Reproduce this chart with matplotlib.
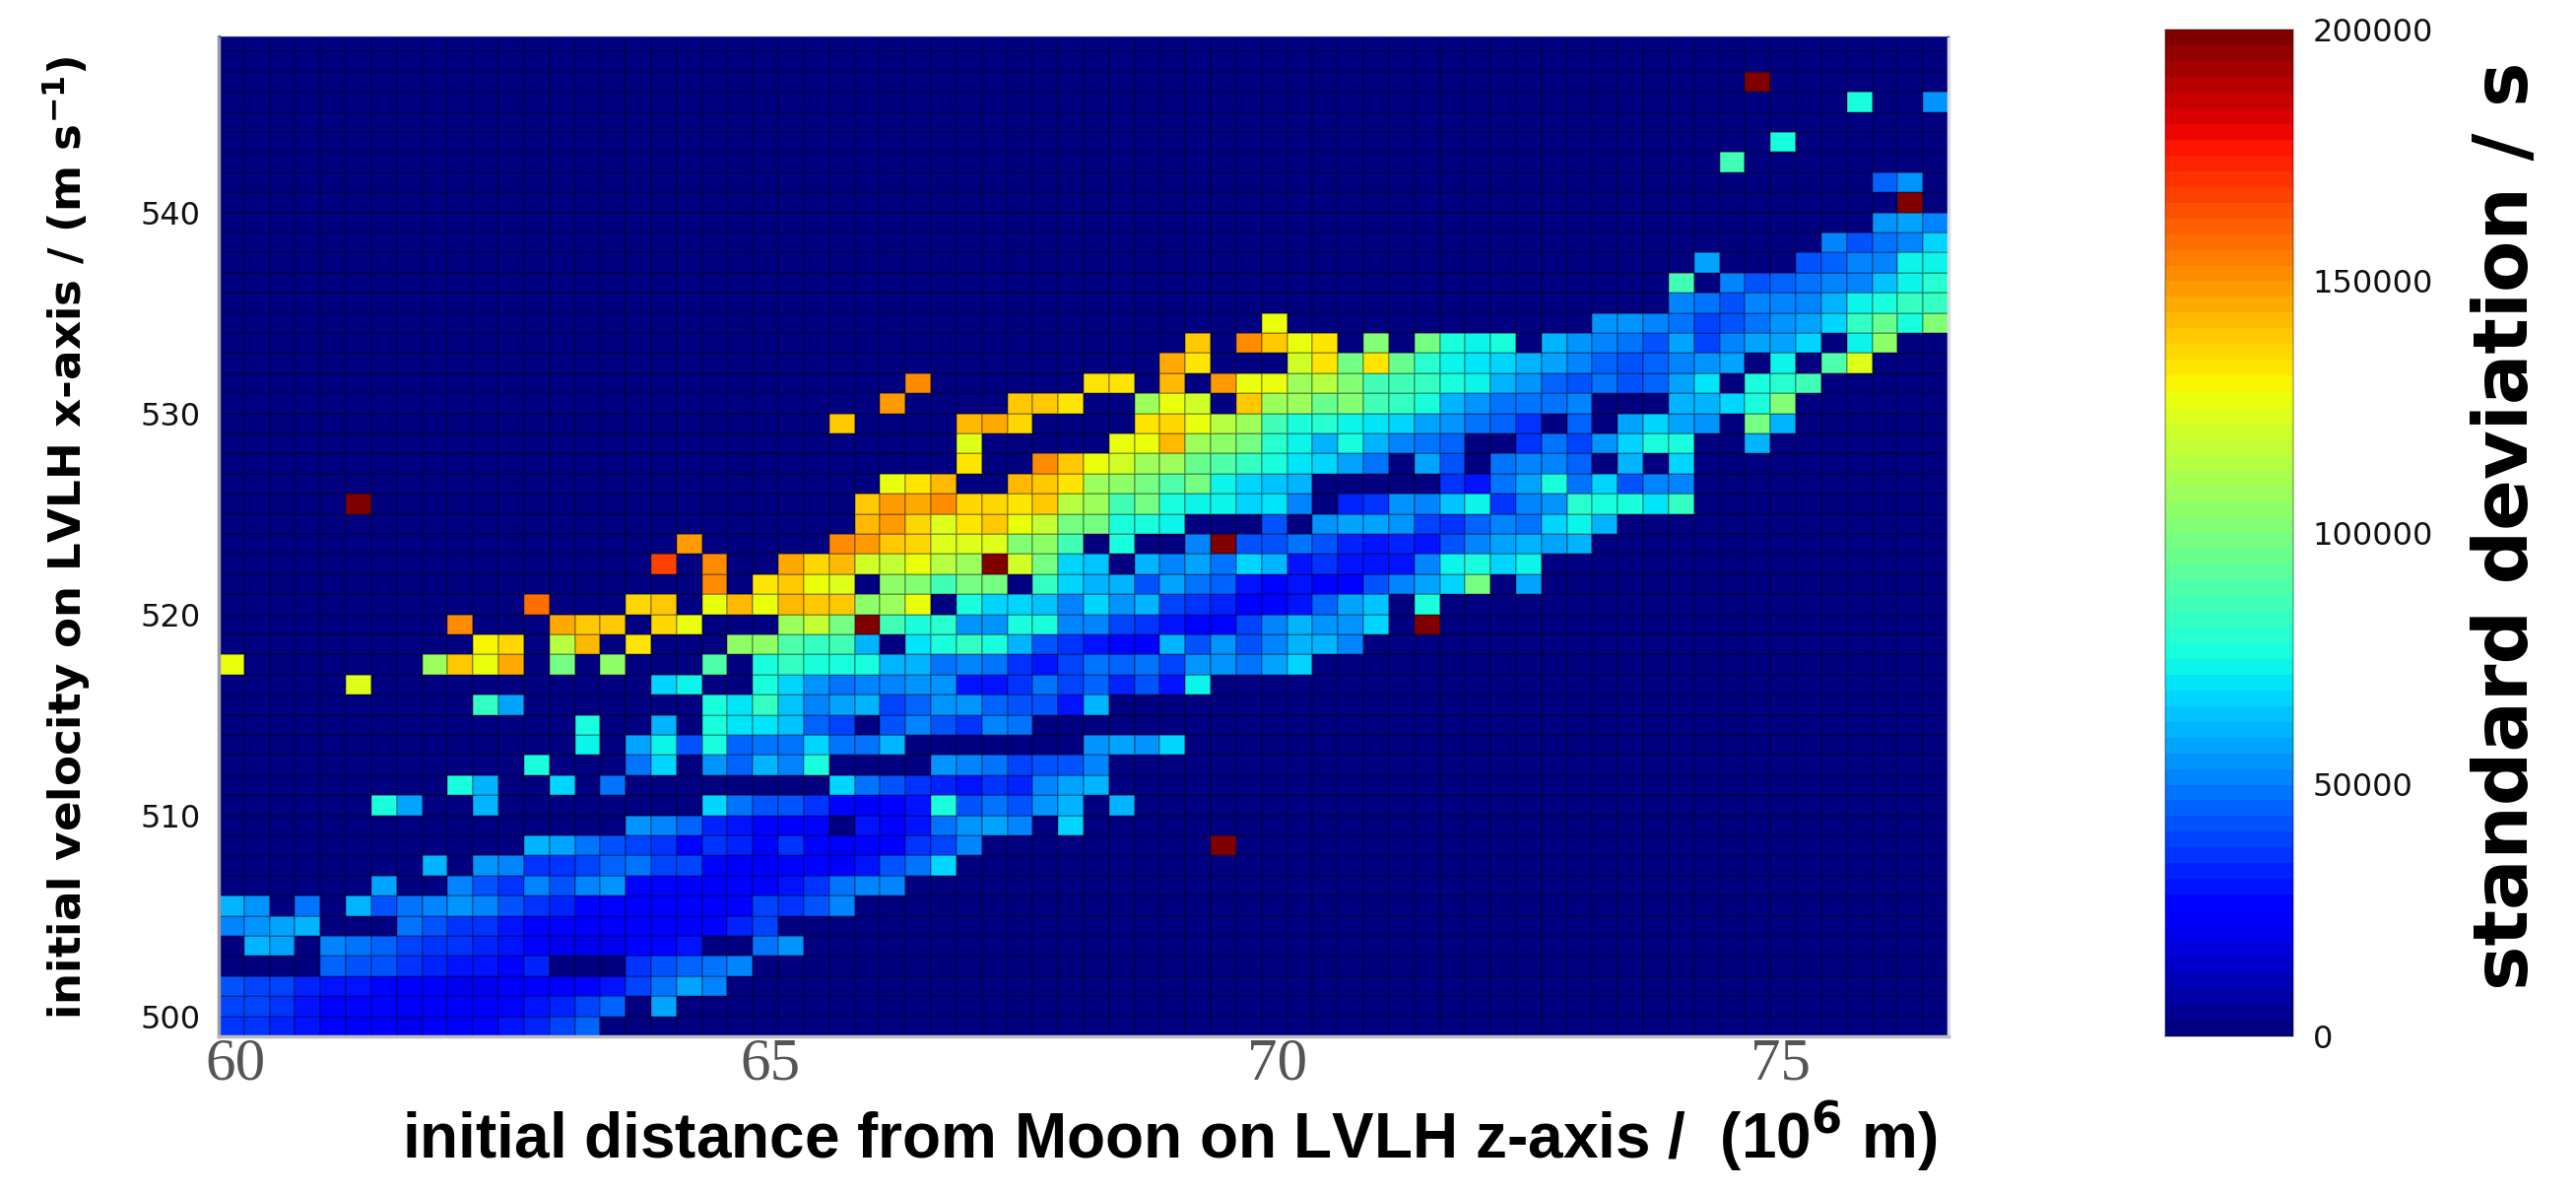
import numpy as np
import matplotlib
matplotlib.use("Agg")
import matplotlib.pyplot as plt

# standard deviation in thousands of seconds
# each entry: (row, first column, values), empty cells stay 0
std_runs = [
    (0, 0, [37, 35, 32, 29, 25, 24, 22, 21, 23, 24, 26, 30, 34, 38, 44]),
    (1, 0, [40, 38, 35, 31, 28, 26, 25, 24, 24, 24, 23, 25, 29, 33, 39, 45, 0, 57]),
    (2, 0, [41, 39, 38, 33, 31, 29, 25, 23, 22, 21, 21, 22, 24, 23, 26, 31, 38, 47, 58, 50]),
    (3, 4, [45, 43, 41, 35, 33, 31, 29, 25, 33, 0, 0, 0, 35, 41, 45, 47, 53]),
    (4, 1, [62, 58, 0, 52, 48, 46, 40, 37, 35, 33, 29, 25, 21, 21, 21, 25, 27, 31, 0, 0, 47, 56]),
    (5, 0, [53, 56, 58, 62, 0, 0, 0, 47, 41, 35, 35, 31, 25, 25, 24, 24, 24, 22, 23, 25, 33, 40]),
    (6, 0, [62, 56, 0, 48, 0, 62, 43, 47, 53, 55, 50, 41, 37, 33, 25, 25, 23, 22, 22, 24, 26, 39, 36, 41, 50]),
    (7, 6, [58, 0, 0, 50, 41, 37, 50, 41, 50, 54, 27, 25, 22, 23, 25, 25, 29, 35, 48, 52, 50]),
    (8, 8, [62, 0, 54, 50, 37, 37, 39, 45, 47, 39, 39, 25, 24, 23, 25, 25, 24, 29, 43, 47, 66]),
    (9, 12, [62, 58, 49, 43, 39, 37, 28, 36, 33, 25, 37, 25, 24, 28, 24, 35, 39, 52]),
    (9, 39, [200]),
    (10, 16, [54, 52, 45, 33, 29, 25, 24, 25, 0, 31, 27, 31, 48, 54, 58, 52, 0, 66]),
    (11, 6, [75, 58]),
    (11, 10, [62]),
    (11, 19, [66, 49, 43, 41, 35, 25, 24, 25, 29, 78, 43, 47, 43, 56, 62, 0, 62]),
    (12, 9, [75, 62]),
    (12, 13, [66]),
    (12, 15, [47]),
    (12, 24, [66, 48, 43, 37, 33, 31, 35, 33, 50, 58, 62]),
    (13, 12, [78]),
    (13, 16, [48, 66, 0, 54, 45, 62, 50, 76]),
    (13, 28, [55, 52, 48, 39, 43, 41, 52]),
    (14, 14, [72]),
    (14, 16, [58, 72, 43, 75, 45, 47, 48, 66, 48, 47, 62]),
    (14, 34, [56, 58, 56, 66]),
    (15, 14, [78]),
    (15, 17, [62]),
    (15, 19, [76, 71, 71, 64, 45, 39, 0, 41, 52, 43, 35, 50, 48]),
    (16, 10, [84, 58]),
    (16, 19, [75, 70, 82, 64, 50, 58, 62, 39, 45, 56, 54, 45, 41, 43, 31, 60]),
    (17, 5, [122]),
    (17, 17, [66, 72, 0, 0, 75, 66, 54, 48, 50, 52, 56, 54, 31, 29, 35, 47, 39, 45, 33, 43, 31, 73]),
    (18, 0, [127]),
    (18, 8, [109, 140, 127, 144, 0, 97, 0, 105]),
    (18, 19, [90, 0, 75, 82, 78, 78, 76, 60, 62, 47, 50, 48, 37, 29, 39, 48, 45, 48, 39, 54, 54, 48, 58, 66]),
    (19, 10, [130, 135, 0, 113, 142, 0, 132]),
    (19, 20, [105, 105, 90, 83, 85, 62, 0, 70, 75, 84, 75, 62, 43, 37, 31, 25, 24, 62, 43, 56, 41, 52, 62, 60, 52]),
    (20, 9, [150]),
    (20, 13, [145, 139, 138, 0, 137, 127]),
    (20, 22, [109, 118, 99, 200, 86, 78, 80, 56, 56, 75, 78, 52, 50, 39, 35, 29, 25, 25, 39, 52, 62, 54, 54, 66, 0, 200]),
    (21, 12, [157]),
    (21, 16, [136, 138, 0, 125, 142, 127, 142, 138, 138, 105, 108, 125, 0, 78, 66, 66, 64, 50, 68, 54, 60, 39, 35, 33,
              25, 25, 31, 46, 58, 64, 0, 75]),
    (22, 19, [152]),
    (22, 21, [132, 140, 127, 124, 0, 105, 102, 86, 97, 97, 0, 82, 66, 62, 62, 43, 58, 48, 45, 29, 25, 29, 25, 25, 41,
              50, 58, 66, 99, 0, 58]),
    (23, 17, [168]),
    (23, 19, [152]),
    (23, 22, [145, 136, 142, 120, 118, 127, 114, 109, 200, 121, 97, 67, 64, 0, 62, 52, 58, 47, 68, 60, 31, 35, 31, 29,
              29, 50, 72, 75, 68, 73]),
    (24, 18, [148]),
    (24, 24, [152, 148, 140, 136, 124, 122, 122, 101, 105, 86, 0, 75, 0, 0, 52, 200, 43, 41, 48, 43, 33, 31, 33, 29,
              41, 52, 58, 62, 58, 62]),
    (25, 25, [142, 147, 136, 122, 134, 140, 127, 118, 97, 97, 77, 75, 73, 0, 0, 0, 43, 0, 54, 58, 58, 54, 39, 35, 45,
              50, 48, 66, 74, 62]),
    (26, 5, [200]),
    (26, 25, [138, 147, 146, 152, 137, 137, 132, 138, 113, 109, 85, 97, 75, 74, 73, 66, 70, 50, 0, 33, 37, 56, 50, 64,
              72, 35, 52, 54, 80, 76, 75, 71, 82]),
    (27, 26, [127, 132, 142, 0, 0, 142, 140, 134, 109, 105, 97, 90, 97, 73, 66, 64, 60]),
    (27, 48, [37, 29, 48, 58, 78, 47, 66, 41, 52, 52]),
    (28, 29, [134]),
    (28, 32, [150, 138, 127, 119, 109, 107, 95, 90, 83, 75, 71, 66, 58, 48, 0, 58, 43, 0, 47, 50, 50, 45, 0, 62, 0, 68]),
    (29, 29, [122]),
    (29, 35, [127, 125, 142, 109, 105, 97, 80, 73, 62, 75, 62, 52, 48, 45, 0, 0, 35, 47, 39, 54, 67, 75, 75]),
    (29, 60, [62]),
    (30, 24, [138]),
    (30, 29, [142, 146, 137]),
    (30, 36, [132, 136, 127, 114, 109, 86, 75, 80, 73, 71, 66, 58, 54, 48, 45, 37, 0, 45, 0, 58, 68, 58, 54, 0, 99, 62]),
    (31, 26, [147]),
    (31, 31, [138, 138, 134]),
    (31, 36, [109, 127, 120, 0, 138, 109, 107, 95, 101, 85, 83, 78, 62, 56, 48, 47, 47, 50]),
    (31, 57, [62, 62, 68, 78, 101]),
    (32, 27, [151]),
    (32, 34, [132, 132, 0, 142, 0, 148, 127, 125, 109, 113, 101, 86, 86, 83, 75, 72, 62, 54, 45, 43, 47, 43, 45, 58,
              70, 0, 75, 80, 86]),
    (33, 37, [146, 132]),
    (33, 42, [119, 134, 97, 133, 95, 80, 73, 71, 67, 61, 58, 52, 45, 43, 45, 52, 54, 58, 0, 73, 0, 90, 122]),
    (34, 38, [138]),
    (34, 40, [152, 140, 127, 132, 0, 102, 0, 97, 75, 73, 75, 0, 62, 54, 50, 47, 41, 58, 39, 50, 58, 58, 66, 0, 74, 105]),
    (35, 41, [127]),
    (35, 54, [54, 56, 52, 49, 39, 43, 48, 56, 58, 67, 83, 95, 78, 101]),
    (36, 57, [50, 47, 43, 52, 50, 52, 62, 72, 75, 83, 82]),
    (37, 57, [86]),
    (37, 59, [50, 41, 45, 47, 52, 52, 64, 74, 80]),
    (38, 58, [58]),
    (38, 62, [43, 45, 50, 52, 72, 73]),
    (39, 63, [50, 41, 48, 52, 66]),
    (40, 65, [56, 58, 52]),
    (41, 66, [200]),
    (42, 65, [45, 54]),
    (43, 59, [87]),
    (44, 61, [75]),
    (46, 64, [75]),
    (46, 67, [56]),
    (47, 60, [200]),
]

n_rows = 50
n_cols = 68
x_ticks = [60.16, 65.26, 70.10, 74.90]
x_tick_labels = ["60", "65", "70", "75"]
y_ticks = [500, 510, 520, 530, 540]
cbar_ticks = [0, 50000, 100000, 150000, 200000]

grid = np.zeros((n_rows, n_cols))
for row, start, vals in std_runs:
    grid[row, start:start + len(vals)] = np.array(vals) * 1000

x_edges = 60 + np.arange(n_cols + 1) * 16.5 / n_cols
y_edges = 499.02 + np.arange(n_rows + 1)

W, H = 2615, 1210
fig = plt.figure(figsize=(W / 100, H / 100), dpi=100)
ax = fig.add_axes([222 / W, 1 - 1052 / H, 1756 / W, 1015 / H])

mesh = ax.pcolormesh(x_edges, y_edges, grid, cmap=plt.get_cmap("jet", 64), vmin=0, vmax=200000,
                     edgecolors=(0, 0, 0, 0.22), linewidth=1.3)
ax.set_xlim(60, 76.5)
ax.set_ylim(499.02, 548.77)

ax.set_xticks(x_ticks)
ax.set_xticklabels(x_tick_labels, family="Liberation Serif", fontsize=44, color="#555555")
ax.set_yticks(y_ticks)
ax.tick_params(axis="x", length=0, pad=1)
ax.tick_params(axis="y", length=0, pad=13, labelsize=23, labelcolor="#111111")

ax.spines["left"].set_color("#9a9aaa")
ax.spines["bottom"].set_color("#bbbbbb")
ax.spines["right"].set_color("#dddddd")
ax.spines["top"].set_color("#3030a0")
ax.spines["left"].set_linewidth(2.5)
ax.spines["bottom"].set_linewidth(2.5)
ax.spines["right"].set_linewidth(2.5)
ax.spines["top"].set_linewidth(0.8)

# colour bar on the right
cax = fig.add_axes([2198 / W, 1 - 1052 / H, 130 / W, 1022 / H])
cb = fig.colorbar(mesh, cax=cax)
cb.set_ticks(cbar_ticks)
cb.ax.tick_params(length=0, pad=14, labelsize=23, labelcolor="#111111")
cb.outline.set_edgecolor((0, 0, 0, 0.25))
cb.outline.set_linewidth(1.5)

plt.rcParams["mathtext.fontset"] = "dejavusans"
fig.text(68 / W, 1 - 546 / H, r"initial velocity on LVLH x-axis / (m s$^{\mathbf{-1}}$)",
         rotation=90, ha="center", va="center", fontsize=32.5, fontweight="bold")
fig.text(1187 / W, 1 - 1176 / H, "initial distance from Moon on LVLH z-axis /  (10$^{\\mathbf{6}}$ m)",
         ha="center", va="baseline", fontsize=46, fontweight="bold", family="Liberation Sans")
fig.text(2545 / W, 1 - 534 / H, "standard deviation / s", rotation=90, ha="center", va="center",
         fontsize=55, fontweight="bold")

plt.savefig("out.png", dpi=100)
